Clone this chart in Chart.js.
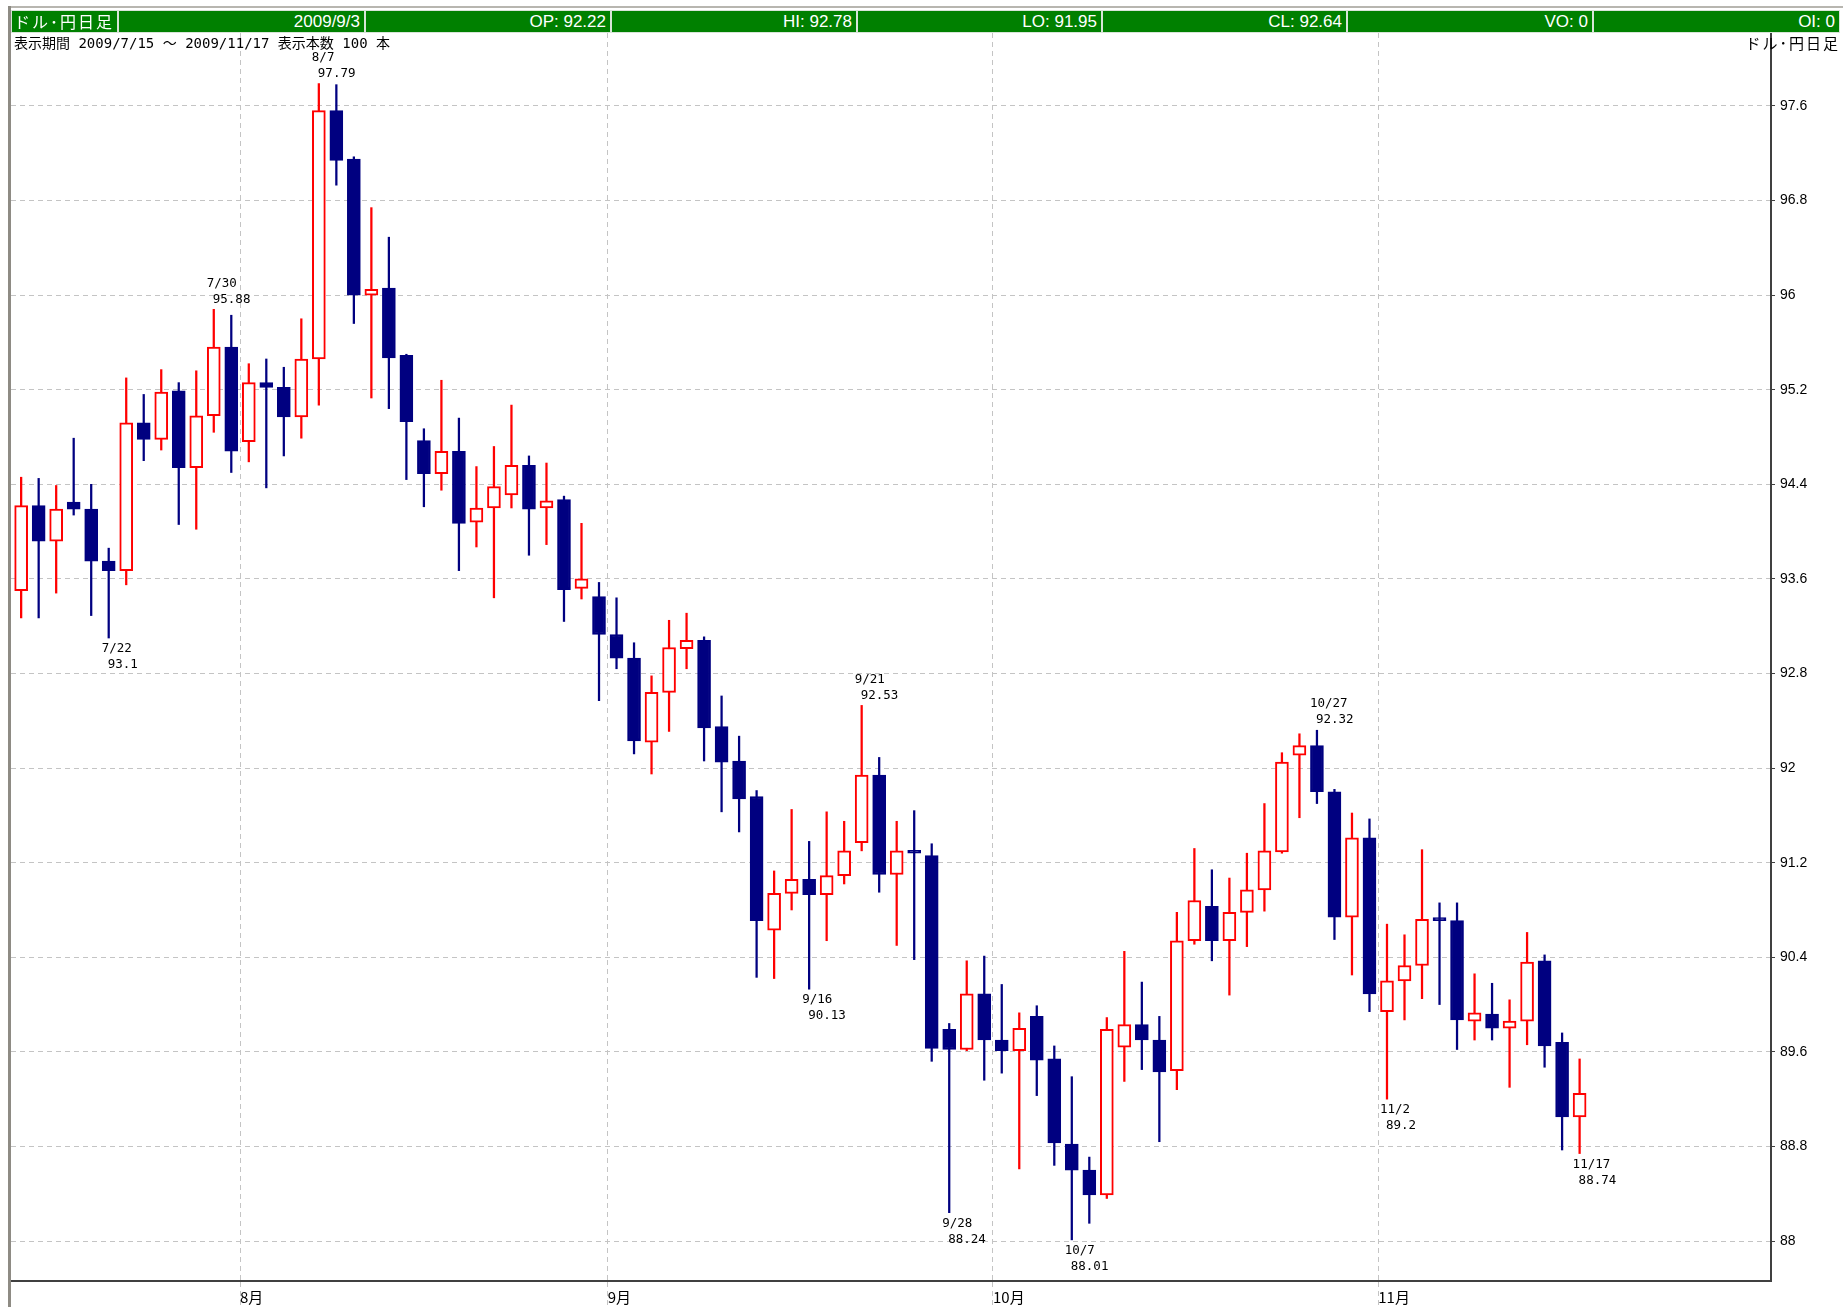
<!DOCTYPE html>
<html>
<head>
<meta charset="utf-8">
<title>ドル･円日足</title>
<script src="https://cdn.jsdelivr.net/npm/chart.js@4.4.1/dist/chart.umd.min.js"></script>
<style>
  html, body { margin: 0; padding: 0; background: #fff; }
  #wrap { position: relative; width: 1843px; height: 1307px; overflow: hidden; background: #fff; }
  #c { position: absolute; left: 0; top: 0; }
  .frameL { position: absolute; left: 8px; top: 6px; width: 3px; height: 1301px; background: #8e8b84; }
  .frameT { position: absolute; left: 8px; top: 6px; width: 1835px; height: 2px; background: #b8b6b0; }
  .box { position: absolute; top: 10px; height: 23px; background: #008000; color: #fff; box-sizing: border-box;
         border: 1px solid #d8e4d8; font: 17px "Liberation Sans Narrow", "Liberation Sans", sans-serif;
         line-height: 21px; text-align: right; padding: 0 4px; white-space: nowrap; }
  .box.first { text-align: left; padding: 0 2px; font: 16px "Noto Sans CJK JP", sans-serif; line-height: 21px; letter-spacing: 2px; }
  .sub { position: absolute; top: 32px; font: 14px "DejaVu Sans Mono", "Noto Sans CJK JP", monospace; color: #000; white-space: nowrap; }
  #rightTitle { font: 15px "Noto Sans CJK JP", sans-serif; letter-spacing: 2px; }
</style>
</head>
<body>
<div id="wrap">
  <canvas id="c" width="1843" height="1307"></canvas>
  <div class="frameT"></div>
  <div class="frameL"></div>
  <div id="header"></div>
  <div class="sub" id="period" style="left:14px;"></div>
  <div class="sub" id="rightTitle" style="right:3px;">ドル･円日足</div>
</div>
<script>
const dates = ['7/15','7/16','7/17','7/20','7/21','7/22','7/23','7/24','7/27','7/28','7/29','7/30','7/31',
  '8/3','8/4','8/5','8/6','8/7','8/10','8/11','8/12','8/13','8/14','8/17','8/18','8/19','8/20','8/21','8/24','8/25','8/26','8/27','8/28','8/31',
  '9/1','9/2','9/3','9/4','9/7','9/8','9/9','9/10','9/11','9/14','9/15','9/16','9/17','9/18','9/21','9/22','9/23','9/24','9/25','9/28','9/29','9/30',
  '10/1','10/2','10/5','10/6','10/7','10/8','10/9','10/12','10/13','10/14','10/15','10/16','10/19','10/20','10/21','10/22','10/23','10/26','10/27','10/28','10/29','10/30',
  '11/2','11/3','11/4','11/5','11/6','11/9','11/10','11/11','11/12','11/13','11/16','11/17'];

const open = [93.50,94.22,93.92,94.25,94.19,93.75,93.67,94.92,94.78,95.19,94.54,94.98,95.56,
  94.76,95.26,95.22,94.97,95.46,97.56,97.15,96.00,96.06,95.49,94.77,94.49,94.68,94.08,94.20,94.31,94.56,94.20,94.27,93.52,93.45,
  93.13,92.93,92.22,92.64,93.01,93.08,92.35,92.06,91.76,90.63,90.94,91.06,90.93,91.09,91.37,91.94,91.10,91.29,91.26,89.79,89.62,90.09,
  89.70,89.61,89.90,89.54,88.82,88.60,88.39,89.64,89.83,89.70,89.44,90.54,90.83,90.54,90.78,90.97,91.29,92.11,92.19,91.80,90.74,91.41,
  89.94,90.20,90.33,90.72,90.71,89.86,89.92,89.80,89.86,90.37,89.68,89.05];
const high = [94.46,94.45,94.39,94.79,94.40,93.86,95.30,95.16,95.37,95.26,95.36,95.88,95.83,
  95.42,95.46,95.39,95.80,97.79,97.78,97.17,96.74,96.49,95.50,94.87,95.28,94.96,94.55,94.72,95.07,94.64,94.58,94.30,94.07,93.57,
  93.44,93.06,92.78,93.25,93.31,93.11,92.61,92.27,91.81,91.13,91.65,91.38,91.63,91.55,92.53,92.09,91.55,91.64,91.36,89.84,90.37,90.41,
  90.17,89.93,89.99,89.65,89.39,88.71,89.89,90.45,90.19,89.90,90.78,91.32,91.14,91.07,91.28,91.70,92.13,92.29,92.32,91.82,91.62,91.57,
  90.68,90.59,91.31,90.86,90.86,90.26,90.18,90.04,90.61,90.42,89.76,89.54];
const low = [93.27,93.27,93.48,94.14,93.29,93.10,93.55,94.60,94.69,94.06,94.02,94.84,94.50,
  94.59,94.37,94.64,94.79,95.07,96.93,95.76,95.13,95.04,94.44,94.21,94.35,93.67,93.87,93.44,94.20,93.80,93.89,93.24,93.43,92.57,
  92.84,92.12,91.95,92.31,92.84,92.06,91.63,91.46,90.23,90.22,90.80,90.13,90.54,91.02,91.30,90.95,90.50,90.38,89.52,88.24,89.61,89.36,
  89.42,88.61,89.23,88.64,88.01,88.15,88.36,89.35,89.45,88.84,89.28,90.51,90.37,90.08,90.49,90.79,91.28,91.58,91.70,90.55,90.25,89.94,
  89.20,89.87,90.05,90.00,89.62,89.70,89.70,89.30,89.66,89.47,88.77,88.74];
const close = [94.22,93.92,94.19,94.19,93.75,93.67,94.92,94.78,95.18,94.54,94.98,95.56,94.68,
  95.26,95.22,94.97,95.46,97.56,97.14,96.00,96.05,95.47,94.93,94.49,94.68,94.07,94.20,94.38,94.56,94.19,94.26,93.51,93.60,93.13,
  92.93,92.23,92.64,93.02,93.08,92.34,92.05,91.74,90.71,90.94,91.06,90.93,91.09,91.30,91.94,91.10,91.30,91.28,89.63,89.62,90.09,89.70,
  89.61,89.80,89.53,88.83,88.60,88.39,89.79,89.83,89.70,89.43,90.54,90.88,90.54,90.78,90.97,91.30,92.05,92.19,91.80,90.74,91.41,90.09,
  90.20,90.33,90.72,90.71,89.87,89.93,89.80,89.86,90.36,89.65,89.05,89.25];
const volume = 0;
const openInterest = 0;

// high / low callouts
const markIdx  = [5, 11, 17, 45, 48, 53, 60, 74, 78, 89];
const markSide = ['lo','hi','hi','lo','hi','lo','lo','hi','lo','lo'];

// axes
const yTicks = [88, 88.8, 89.6, 90.4, 91.2, 92, 92.8, 93.6, 94.4, 95.2, 96, 96.8, 97.6];
const monthTicks = [12.5, 33.5, 55.5, 77.5];
const monthLabels = ['8月', '9月', '10月', '11月'];

const selIdx = 36; // 2009/9/3 shown in header
const barCount = 100;

const UP = '#ff0000';
const DOWN = '#000080';
const isUp = (i) => close[i] > open[i];

// header boxes
const headerTexts = ['ドル･円日足', '2009/' + dates[selIdx], 'OP: ' + open[selIdx].toFixed(2), 'HI: ' + high[selIdx].toFixed(2),
  'LO: ' + low[selIdx].toFixed(2), 'CL: ' + close[selIdx].toFixed(2), 'VO: ' + volume, 'OI: ' + openInterest];
const headerEdges = [11, 118, 365, 611, 857, 1102, 1347, 1593, 1840];
const header = document.getElementById('header');
headerTexts.forEach((t, k) => {
  const d = document.createElement('div');
  d.className = 'box' + (k === 0 ? ' first' : '');
  d.style.left = headerEdges[k] + 'px';
  d.style.width = (headerEdges[k + 1] - headerEdges[k]) + 'px';
  d.textContent = t;
  header.appendChild(d);
});
document.getElementById('period').textContent =
  '表示期間 2009/' + dates[0] + ' ～ 2009/' + dates[dates.length - 1] + ' 表示本数 ' + barCount + ' 本';

const markPlugin = {
  id: 'marks',
  afterDatasetsDraw(chart) {
    const { ctx, scales: { x, y } } = chart;
    ctx.save();
    ctx.font = '12.5px "DejaVu Sans Mono", monospace';
    ctx.fillStyle = '#000';
    ctx.textAlign = 'left';
    ctx.textBaseline = 'middle';
    markIdx.forEach((i, k) => {
      const px = x.getPixelForValue(i);
      if (markSide[k] === 'hi') {
        const py = y.getPixelForValue(high[i]);
        ctx.fillText(dates[i], px - 7, py - 26);
        ctx.fillText(String(high[i]), px - 1, py - 10);
      } else {
        const py = y.getPixelForValue(low[i]);
        ctx.fillText(dates[i], px - 7, py + 11);
        ctx.fillText(String(low[i]), px - 1, py + 27);
      }
    });
    ctx.restore();
  }
};

const ctx = document.getElementById('c').getContext('2d');
const myChart = new Chart(ctx, {
  type: 'bar',
  data: {
    datasets: [
      {
        label: 'body',
        data: dates.map((d, i) => ({ x: i, y: [open[i], close[i]] })),
        backgroundColor: dates.map((d, i) => isUp(i) ? '#ffffff' : DOWN),
        borderColor: dates.map((d, i) => isUp(i) ? UP : DOWN),
        borderWidth: 2,
        borderSkipped: false,
        barThickness: 13,
        minBarLength: 3,
        grouped: false,
        order: 1,
      },
      {
        label: 'wick',
        data: dates.map((d, i) => ({ x: i, y: [low[i], high[i]] })),
        backgroundColor: dates.map((d, i) => isUp(i) ? UP : DOWN),
        borderWidth: 0,
        barThickness: 1.6,
        grouped: false,
        order: 2,
      },
    ],
  },
  options: {
    responsive: false,
    animation: false,
    devicePixelRatio: 1,
    layout: { padding: { left: 11, top: 33, right: 0, bottom: 0 } },
    plugins: { legend: { display: false }, tooltip: { enabled: false } },
    scales: {
      x: {
        type: 'linear',
        min: -0.58,
        max: 99.93,
        offset: false,
        afterBuildTicks: (s) => { s.ticks = monthTicks.map(v => ({ value: v })); },
        afterFit: (s) => { s.height = 26; },
        grid: { offset: false, color: '#c4c4c4', lineWidth: 1, tickLength: 26, tickColor: '#c4c4c4', tickBorderDash: [5, 4] },
        border: { display: true, color: '#404040', width: 2, dash: [5, 4] },
        ticks: {
          callback: (v, k) => monthLabels[k],
          align: 'start',
          padding: -19,
          maxRotation: 0,
          autoSkip: false,
          color: '#000',
          font: { family: '"Noto Sans CJK JP", sans-serif', size: 15 },
        },
      },
      y: {
        position: 'right',
        min: 87.662,
        max: 98.217,
        afterBuildTicks: (s) => { s.ticks = yTicks.map(v => ({ value: v })); },
        afterFit: (s) => { s.width = 72; },
        grid: { color: '#c4c4c4', lineWidth: 1, tickLength: 4, tickColor: '#404040', tickBorderDash: [] },
        border: { display: true, color: '#404040', width: 2, dash: [5, 4] },
        ticks: {
          callback: (v) => String(+v.toFixed(1)),
          padding: 5,
          color: '#000',
          font: { family: '"Liberation Sans", Arial, sans-serif', size: 14 },
        },
      },
    },
  },
  plugins: [markPlugin],
});
</script>
</body>
</html>
